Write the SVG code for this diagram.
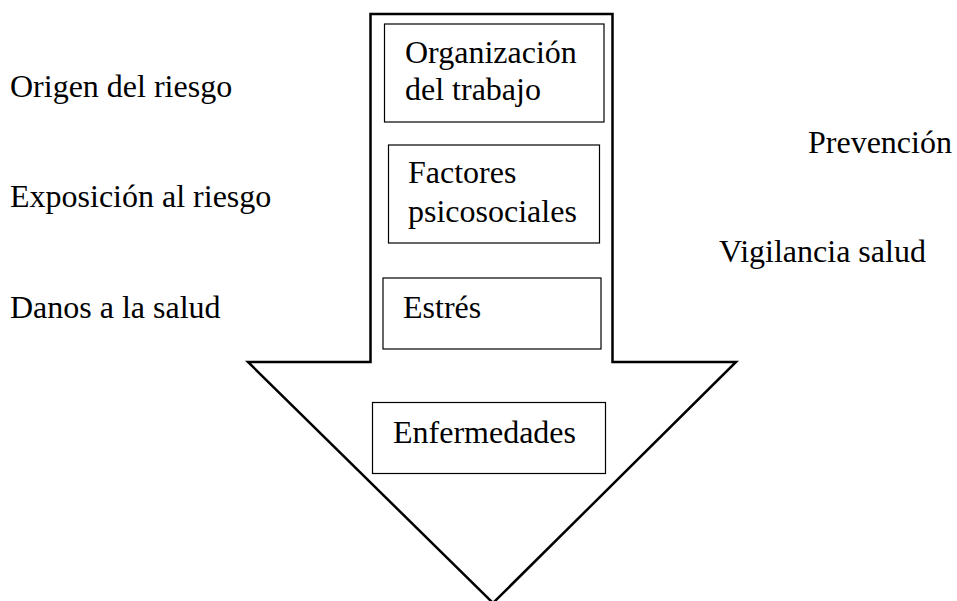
<svg xmlns="http://www.w3.org/2000/svg" width="957" height="601" viewBox="0 0 957 601">
<style>
.box{fill:#fff;stroke:#000;stroke-width:1.2}
.arrow{fill:#fff;stroke:#000;stroke-width:2.5;stroke-linejoin:miter}
</style>
<rect width="957" height="601" fill="#fff"/>
<g id="connectors">
<polygon id="arrow" class="arrow" points="370.5,14 612.5,14 612.5,362 736,362 493,603 248,362 370.5,362"/>
</g>
<g font-family="'Liberation Serif', 'Times New Roman', 'DejaVu Serif', serif" font-size="32" fill="#000">
<g id="labels-left">
<text x="10" y="97">Origen del riesgo</text>
<text x="10" y="207">Exposición al riesgo</text>
<text x="10" y="318">Danos a la salud</text>
</g>
<g id="labels-right">
<text x="808" y="153">Prevención</text>
<text x="719" y="262">Vigilancia salud</text>
</g>
<g id="node-organizacion">
<rect class="box" x="384.5" y="24" width="219.5" height="98"/>
<text x="405" y="63">Organización</text>
<text x="405" y="100">del trabajo</text>
</g>
<g id="node-factores">
<rect class="box" x="388.5" y="145" width="211" height="98"/>
<text x="408" y="183">Factores</text>
<text x="408" y="222">psicosociales</text>
</g>
<g id="node-estres">
<rect class="box" x="383" y="278" width="218" height="71"/>
<text x="403" y="318">Estrés</text>
</g>
<g id="node-enfermedades">
<rect class="box" x="372.5" y="402.5" width="233" height="71"/>
<text x="393" y="443">Enfermedades</text>
</g>
</g>
</svg>
